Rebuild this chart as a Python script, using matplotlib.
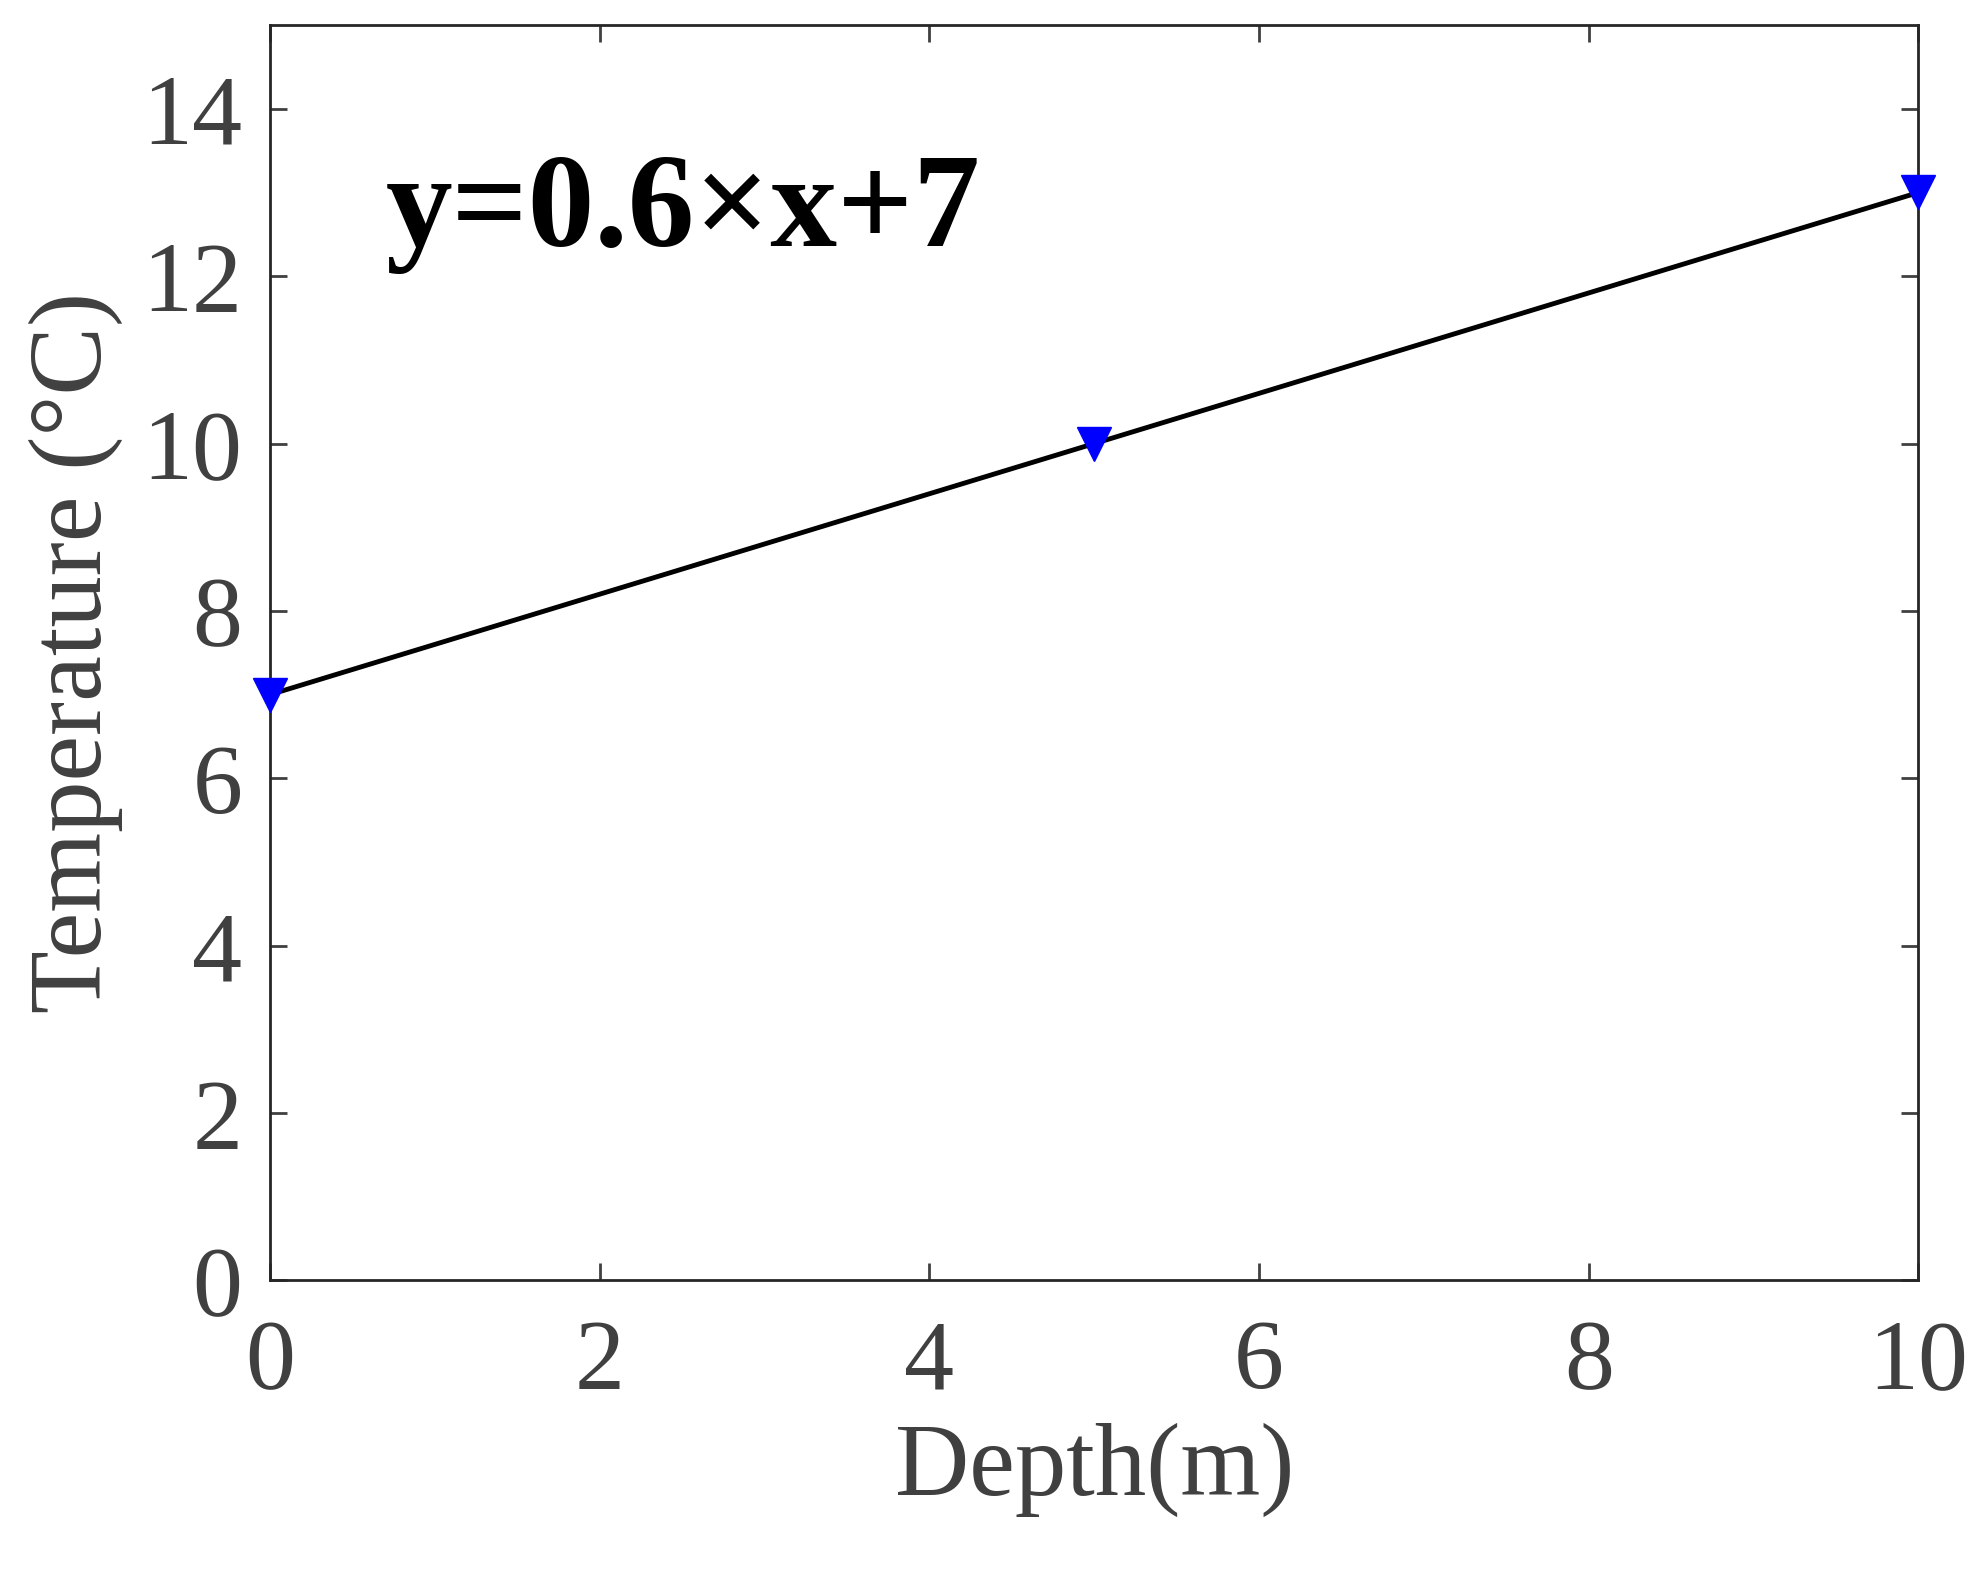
import matplotlib
matplotlib.use("Agg")
import matplotlib.pyplot as plt

depth = [0, 5, 10]
temperature = [7, 10, 13]
xticks = [0, 2, 4, 6, 8, 10]
yticks = [0, 2, 4, 6, 8, 10, 12, 14]

plt.rcParams['font.family'] = ['Liberation Serif', 'DejaVu Serif']
fig = plt.figure(figsize=(19.86, 15.71), dpi=100)
ax = fig.add_axes([0.136, 0.185, 0.830, 0.799])
ax.plot(depth, temperature, color='black', lw=3.5, zorder=2)
ax.plot(depth, temperature, linestyle='none', marker='v', color='blue', markersize=24, zorder=3, clip_on=False)
ax.set_xlim(0, 10)
ax.set_ylim(0, 15)
ax.set_xticks(xticks)
ax.set_yticks(yticks)
ax.tick_params(direction='in', length=12, width=2, labelsize=72, colors='#404040',
               top=True, right=True)
ax.tick_params(axis='x', pad=28)
ax.tick_params(axis='y', pad=20)
for s in ax.spines.values():
    s.set_linewidth(2)
    s.set_color('#262626')
ax.set_xlabel('Depth(m)', fontsize=74, color='#404040', labelpad=10)
ax.set_ylabel('Temperature (°C)', fontsize=74, color='#404040', labelpad=14)
ax.text(0.07, 0.85, 'y=0.6×x+7', transform=ax.transAxes, fontsize=96, fontweight='bold',
        color='black', va='center')
fig.savefig('out.png', dpi=100)
